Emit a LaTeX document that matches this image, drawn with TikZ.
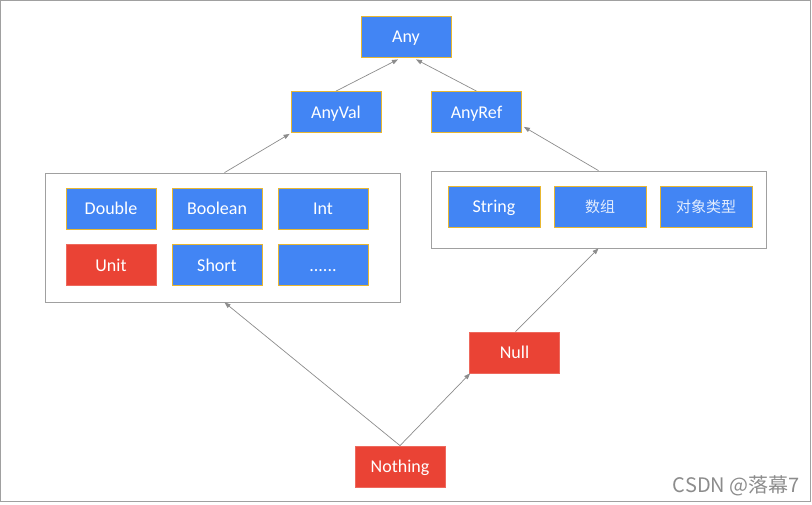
\documentclass[tikz,border=0pt]{standalone}
\usepackage{fontspec}
\setmainfont{Carlito}
\newfontfamily\cjk{Noto Sans CJK SC}
\usetikzlibrary{arrows.meta,calc}
\definecolor{gblue}{HTML}{4285F4}
\definecolor{gred}{HTML}{EA4335}
\definecolor{gold}{HTML}{E8B730}
\definecolor{lgray}{HTML}{A0A0A0}
\definecolor{agray}{HTML}{8C8C8C}
\tikzset{
  tbox/.style={minimum width=90pt,minimum height=41pt,inner sep=0pt,text=white,
    text height=12pt,text depth=0pt,
    font=\fontsize{18}{21}\selectfont,line width=0.8pt},
  bluebox/.style={tbox,fill=gblue,draw=gold},
  redbox/.style={tbox,fill=gred,draw=gred!80!white},
  cnbox/.style={bluebox,text=white!85!gblue,font=\cjk\fontsize{15}{18}\selectfont},
  container/.style={draw=lgray,line width=0.8pt,fill=white,inner sep=0pt},
  conn/.style={draw=agray,line width=0.7pt,-{Triangle[length=6pt,width=4.5pt]}}
}
\begin{document}
\begin{tikzpicture}[x=1pt,y=-1pt]
\useasboundingbox (0,0) rectangle (812,504);
\draw[lgray,line width=0.8pt] (0.5,0.5) rectangle (810.5,501);
% containers
\node[container,minimum width=355pt,minimum height=129pt] (leftbox) at (222.5,237.5) {};
\node[container,minimum width=335pt,minimum height=77pt] (rightbox) at (598.5,209.5) {};
% top nodes
\node[bluebox] (any) at (406,36.5) {Any};
\node[bluebox] (anyval) at (336,112) {AnyVal};
\node[bluebox] (anyref) at (476.5,112) {AnyRef};
% left group
\node[bluebox] (double) at (111,208.5) {Double};
\node[bluebox] (boolean) at (217,208.5) {Boolean};
\node[bluebox] (int) at (323,208.5) {Int};
\node[redbox] (unit) at (111,265) {Unit};
\node[bluebox] (short) at (217,265) {Short};
\node[bluebox] (more) at (323,265) {{.}{.}{.}{.}{.}{.}};
% right group
\node[bluebox,minimum width=92pt] (string) at (494,206.5) {String};
\node[cnbox,minimum width=92pt] (array) at (600,206.5) {数组};
\node[cnbox,minimum width=92pt] (objtype) at (706,206.5) {对象类型};
% bottom
\node[redbox] (null) at (514.5,352.5) {Null};
\node[redbox] (nothing) at (400,466.5) {Nothing};
% connectors
\draw[conn] (anyval.north) -- ($(any.south)+(-8,2)$);
\draw[conn] (anyref.north) -- ($(any.south)+(10,2)$);
\draw[conn] ($(leftbox.north)+(2,0)$) -- ($(anyval.south west)+(-1,1)$);
\draw[conn] (rightbox.north) -- ($(anyref.south east)+(2,-6)$);
\draw[conn] (nothing.north) -- ($(leftbox.south)+(2,0)$);
\draw[conn] (nothing.north) -- ($(null.south west)+(1,0)$);
\draw[conn] ($(null.north)+(1,0)$) -- (rightbox.south);
% watermark
\node[anchor=east,text=agray,font=\cjk\fontsize{20}{22}\selectfont,inner sep=0pt] (wm) at (800,486) {CSDN @落幕7};
\end{tikzpicture}
\end{document}
